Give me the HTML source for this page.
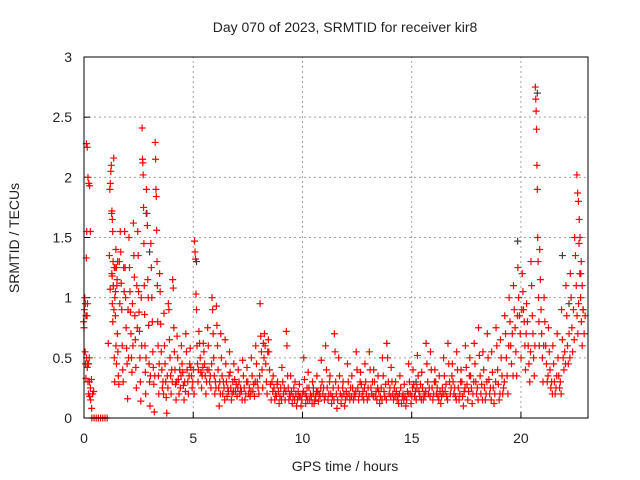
<!DOCTYPE html>
<html><head><meta charset="utf-8"><style>
html,body{margin:0;padding:0;background:#fff;}
svg{display:block;font-family:"Liberation Sans",sans-serif;}
</style></head><body>
<svg id="chart" width="640" height="480" viewBox="0 0 640 480">
<text x="345" y="32" font-size="14" text-anchor="middle" fill="#222">Day 070 of 2023, SRMTID for receiver kir8</text>
<text x="345" y="471" font-size="14" text-anchor="middle" fill="#222">GPS time / hours</text>
<text transform="translate(19,238) rotate(-90)" font-size="14" text-anchor="middle" fill="#222">SRMTID / TECUs</text>
<g id="grid"></g><g id="ticks"></g><g id="grey"></g><g id="marks"></g>
<rect x="84" y="57" width="504" height="361" fill="none" stroke="#000" stroke-width="1"/>
</svg>
<script>
const xTicks=[0,5,10,15,20];
const yTicks=[0,0.5,1,1.5,2,2.5,3];
const yTickLabels=["0","0.5","1","1.5","2","2.5","3"];
const sampleHours=[0.02,0.1,0.15,0.2,0.3,0.4,0.5,0.6,0.7,0.8,0.9,1.0,1.1,1.15,1.2,1.3,1.4,1.5,1.7,1.9,2.1,2.3,2.5,2.7,2.9,3.1,3.3,3.5,3.7,3.9,4.1,4.3,4.5,4.7,4.9,5.1,5.3,5.5,5.7,5.9,6.1,6.3,6.5,6.7,6.9,7.1,7.3,7.5,7.7,7.9,8.1,8.3,8.5,8.7,8.9,9.1,9.3,9.5,9.7,9.9,10.1,10.3,10.5,10.7,10.9,11.1,11.3,11.5,11.7,11.9,12.1,12.3,12.5,12.7,12.9,13.1,13.3,13.5,13.7,13.9,14.1,14.3,14.5,14.7,14.9,15.1,15.3,15.5,15.7,15.9,16.1,16.3,16.5,16.7,16.9,17.1,17.3,17.5,17.7,17.9,18.1,18.3,18.5,18.7,18.9,19.1,19.3,19.5,19.7,19.9,20.1,20.3,20.5,20.7,20.9,21.1,21.3,21.5,21.7,21.9,22.1,22.3,22.5,22.6,22.7,22.8];
const srmtidValues=[[.8,.75,.9,1.0,.55,.45,.33,1.33,1.55,.85,.95],[.95,.85,.5,.42,.3,.45,.5],[2.28,2.25,2.0,1.95,1.93,1.55],[.45,.2,.3,.25,.32],[.18,.15,.08,.2,.22],[0],[0],[0],[0],[0],[0],[0],[0],[.62,1.07,1.18],[1.35,1.9,1.95,2.05,2.1,1.2,.95,.8,1.1],[1.7,1.72,1.65,1.55,1.3,1.1,.9,.5,.3,1.25,1.05],[2.16,1.25,1.0,.85,.6,.45,1.15,1.3],[1.4,1.25,1.1,.7,.55,.35,.28,1.3,.95],[1.55,1.38,1.12,.9,.6,.4,.3,1.25,1.05],[1.55,1.25,1.0,.75,.58,.45,.16,.9,.5],[1.5,1.25,1.05,.88,.7,.5,.38,.95,.6],[1.62,1.35,1.17,.85,.65,.42,.25,1.1,.75],[1.55,1.35,1.05,.88,.72,.5,.3,.14,1.0,.6],[2.41,2.15,2.12,2.02,1.75,1.45,1.1,.86,.6,.38,.2,.5],[1.9,1.7,1.6,1.15,1.0,.77,.45,.3,.1,.35],[1.45,1.25,1.0,.8,.55,.42,.28,.05,.35],[2.29,2.15,1.9,1.84,1.56,1.3,1.1,.8,.6,.35,.2,.45],[1.2,1.05,.78,.55,.4,.25,.3,.2],[.87,.6,.45,.3,.17,.04,.35,.25],[.95,.9,.65,.5,.35,.2,.4,.3],[1.15,1.08,.75,.55,.4,.28,.15,.3],[.68,.5,.32,.2,.4,.25,.35],[.6,.45,.38,.27,.15,.3,.22],[.7,.55,.4,.3,.2,.35,.45],[.58,.42,.35,.25,.3,.4,.2],[1.47,1.38,1.32,1.03,.9,.6,.45,.3,.4],[.72,.62,.5,.38,.25,.35,.42],[.62,.55,.45,.35,.2,.3,.4],[.75,.6,.4,.3,.35,.25,.45],[1.0,.9,.7,.5,.35,.2,.3,.25],[.93,.77,.6,.4,.25,.1,.3,.2],[.7,.5,.35,.2,.3,.25,.15],[.65,.45,.3,.18,.25,.22,.35],[.55,.38,.25,.15,.2,.3,.22],[.45,.32,.22,.28,.18,.25],[.4,.3,.2,.25,.22,.15],[.48,.35,.25,.15,.2,.3],[.42,.3,.2,.25,.18,.22],[.5,.35,.22,.28,.18,.3],[.6,.45,.3,.25,.2,.35],[.95,.68,.55,.4,.25,.62,.5],[.7,.6,.45,.3,.2,.55,.65],[.55,.4,.28,.15,.3,.22],[.35,.25,.15,.2,.18,.28],[.3,.22,.12,.18,.25,.15],[.42,.3,.2,.25,.15,.22],[.72,.6,.35,.25,.15,.2,.18],[.35,.22,.12,.18,.25,.15],[.3,.2,.1,.15,.22,.18],[.28,.18,.1,.15,.2,.22],[.5,.32,.2,.12,.18,.25,.15],[.38,.25,.15,.2,.18,.12],[.3,.2,.12,.15,.18,.22],[.35,.22,.14,.2,.18,.25],[.48,.3,.2,.25,.15,.18],[.6,.4,.25,.15,.2,.3],[.35,.2,.12,.18,.25,.15],[.7,.55,.3,.2,.08,.15,.25],[.5,.35,.2,.12,.18,.25],[.3,.2,.1,.15,.22,.18],[.45,.3,.2,.15,.25,.18],[.35,.25,.15,.2,.18,.22],[.55,.4,.25,.15,.2,.3],[.38,.28,.18,.22,.15,.25],[.45,.3,.2,.15,.25,.18],[.55,.4,.25,.2,.3,.18],[.4,.3,.18,.22,.15,.25],[.35,.22,.12,.18,.25,.15],[.5,.35,.22,.18,.28,.15],[.62,.5,.3,.2,.25,.18],[.42,.3,.2,.15,.25,.18],[.3,.22,.15,.18,.12,.2],[.35,.25,.12,.18,.2,.15],[.28,.18,.1,.15,.22,.2],[.45,.3,.2,.12,.18,.25],[.4,.28,.18,.22,.15,.25],[.52,.35,.22,.18,.28,.15],[.38,.25,.15,.2,.18,.22],[.62,.45,.3,.2,.25,.18],[.55,.4,.25,.15,.2,.3],[.4,.3,.2,.25,.18,.15],[.35,.22,.12,.18,.25,.2],[.5,.35,.22,.28,.18,.15],[.62,.45,.3,.2,.25,.35],[.45,.3,.2,.25,.18,.15],[.55,.4,.25,.15,.2,.3],[.4,.3,.18,.1,.22,.25],[.6,.42,.28,.15,.22,.35],[.5,.35,.25,.12,.2,.3],[.62,.45,.3,.2,.25,.15],[.75,.52,.35,.2,.28,.15],[.55,.4,.25,.15,.2,.3],[.7,.5,.32,.2,.25,.15],[.55,.38,.25,.12,.2,.3],[.75,.6,.4,.28,.15,.2],[.65,.5,.35,.2,.25,.3],[.85,.7,.5,.35,.2,.6],[1.0,.8,.6,.45,.7,.35],[1.1,.9,.75,.55,.35,.85],[1.25,1.0,.85,.7,.5,.9],[1.2,1.05,.9,.8,.6,.4,.7],[.95,.8,.6,.45,.3,.55],[1.3,1.1,.85,.7,.5,.35,.6],[2.75,2.65,2.55,2.4,2.1,1.9,1.5,1.3,1.0,.8,.6],[1.4,1.15,.9,.7,.5,.3,.6],[1.0,.8,.6,.45,.3,.35],[.75,.55,.4,.25,.3,.2],[.6,.45,.3,.2,.25,.35],[.7,.5,.35,.25,.3,.2],[.9,.65,.5,.4,.55,.45],[1.1,.85,.6,.45,.7,.5],[1.2,1.0,.75,.55,.9,.65],[1.5,1.35,1.1,.85,.7,.95],[2.02,1.87,1.8,1.65,1.5,1.2],[1.45,1.2,1.0,.8,.6,.9],[1.3,1.1,.9,.7,.85]];
const greyHours=[2.85,3.0,5.15,19.85,20.75,21.9,22.2,10.5,15.2];
const greyValues=[1.7,1.38,1.3,1.47,2.7,1.35,0.95,0.25,0.3];

const NS="http://www.w3.org/2000/svg";
const X0=84,X1=588,Y0=418,Y1=57,XMAX=23.07,YMAX=3;
const xs=h=>X0+(h/XMAX)*(X1-X0);
const ys=v=>Y0-(v/YMAX)*(Y0-Y1);
function mk(tag,attrs,parent){const e=document.createElementNS(NS,tag);for(const k in attrs)e.setAttribute(k,attrs[k]);parent.appendChild(e);return e;}
const grid=document.getElementById('grid'),ticks=document.getElementById('ticks');
xTicks.forEach(t=>{
  const x=xs(t);
  if(t>0){const g=mk('line',{x1:x,x2:x,y1:Y0,y2:Y1,stroke:'#a0a0a0','stroke-dasharray':'2,3'},grid);
  
  }
  const tk=mk('line',{x1:x,x2:x,y1:Y0,y2:Y0-6,stroke:'#000'},ticks);
  
  
  const lb=mk('text',{x:x,y:443,'font-size':14,'text-anchor':'middle',fill:'#222'},ticks);
  lb.textContent=String(t);
  
  
});
yTicks.forEach((t,i)=>{
  const y=ys(t);
  if(t>0&&t<3){const g=mk('line',{x1:X0,x2:X1,y1:y,y2:y,stroke:'#a0a0a0','stroke-dasharray':'2,3'},grid);
  
  }
  const tk=mk('line',{x1:X0,x2:X0+6,y1:y,y2:y,stroke:'#000'},ticks);
  
  
  const lb=mk('text',{x:72,y:y+5,'font-size':14,'text-anchor':'end',fill:'#222'},ticks);
  lb.textContent=yTickLabels[i];
  
  
});
function plus(h,v,color,parent,name){
  const x=xs(h),y=ys(v);
  const p=mk('path',{d:`M${x-3.5},${y}H${x+3.5}M${x},${y-3.5}V${y+3.5}`,stroke:color,'stroke-width':1.2,fill:'none'},parent);
  
  
}
const grey=document.getElementById('grey');
greyHours.forEach((h,i)=>plus(h,greyValues[i],'#404040',grey,'grey-point'));
const marks=document.getElementById('marks');
sampleHours.forEach((h,i)=>{
  const vals=srmtidValues[i];
  const n=vals.length;
  vals.forEach((v,j)=>{plus(h+(n>1?(j*0.18/(n-1)):0)-0.04,v,'#ff0000',marks,'srmtid-point');});
});
</script>
</body></html>
